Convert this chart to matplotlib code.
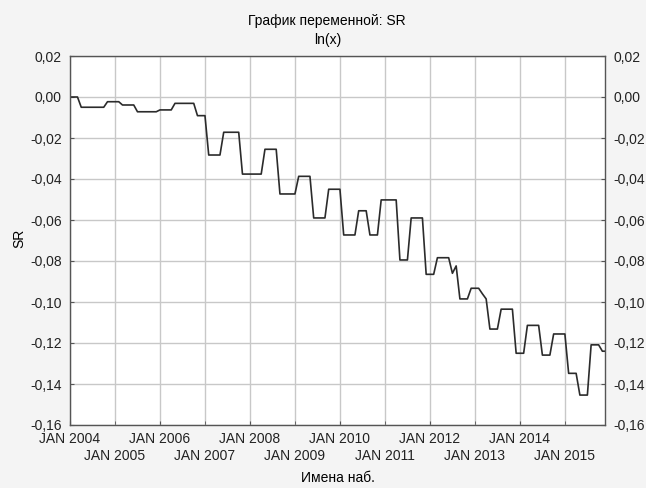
import numpy as np
import matplotlib.pyplot as plt
from matplotlib.ticker import FixedLocator

plt.rcParams['font.family'] = ['Liberation Sans', 'DejaVu Sans']

# monthly SR values, Jan 2004 - Dec 2015
sr_2004 = [0, 0, 0, -0.005, -0.005, -0.005, -0.005, -0.005, -0.005, -0.005, -0.0023, -0.0023]
sr_2005 = [-0.0023, -0.0023, -0.0039, -0.0039, -0.0039, -0.0039, -0.0072, -0.0072, -0.0072, -0.0072, -0.0072, -0.0072]
sr_2006 = [-0.0063, -0.0063, -0.0063, -0.0063, -0.0031, -0.0031, -0.0031, -0.0031, -0.0031, -0.0031, -0.0091, -0.0091]
sr_2007 = [-0.0091, -0.0283, -0.0283, -0.0283, -0.0283, -0.0172, -0.0172, -0.0172, -0.0172, -0.0172, -0.0376, -0.0376]
sr_2008 = [-0.0376, -0.0376, -0.0376, -0.0376, -0.0255, -0.0255, -0.0255, -0.0255, -0.0473, -0.0473, -0.0473, -0.0473]
sr_2009 = [-0.0473, -0.0387, -0.0387, -0.0387, -0.0387, -0.059, -0.059, -0.059, -0.059, -0.045, -0.045, -0.045]
sr_2010 = [-0.045, -0.0673, -0.0673, -0.0673, -0.0673, -0.0555, -0.0555, -0.0555, -0.0673, -0.0673, -0.0673, -0.0502]
sr_2011 = [-0.0502, -0.0502, -0.0502, -0.0502, -0.0795, -0.0795, -0.0795, -0.059, -0.059, -0.059, -0.059, -0.0865]
sr_2012 = [-0.0865, -0.0865, -0.0784, -0.0784, -0.0784, -0.0784, -0.086, -0.0824, -0.0985, -0.0985, -0.0985, -0.0933]
sr_2013 = [-0.0933, -0.0933, -0.096, -0.0985, -0.1132, -0.1132, -0.1132, -0.1035, -0.1035, -0.1035, -0.1035, -0.125]
sr_2014 = [-0.125, -0.125, -0.1114, -0.1114, -0.1114, -0.1114, -0.1259, -0.1259, -0.1259, -0.1156, -0.1156, -0.1156]
sr_2015 = [-0.1156, -0.1348, -0.1348, -0.1348, -0.1454, -0.1454, -0.1454, -0.1209, -0.1209, -0.1209, -0.124, -0.124]

years = list(range(2004, 2016))
y_ticks = [0.02, 0.00, -0.02, -0.04, -0.06, -0.08, -0.10, -0.12, -0.14, -0.16]
y_labels = ['0,02', '0,00', '-0,02', '-0,04', '-0,06', '-0,08', '-0,10', '-0,12', '-0,14', '-0,16']

sr = np.array(sr_2004 + sr_2005 + sr_2006 + sr_2007 + sr_2008 + sr_2009 +
              sr_2010 + sr_2011 + sr_2012 + sr_2013 + sr_2014 + sr_2015)
months = np.arange(len(sr))

fig = plt.figure(figsize=(6.46, 4.88), dpi=100, facecolor='#f4f4f4')
ax = fig.add_axes([70 / 646, 1 - 425 / 488, 535 / 646, 369 / 488])
ax.set_facecolor('white')

ax.plot(months, sr, color='#2b2b2b', linewidth=1.2)

ax.set_xlim(0, 142.7)
ax.set_ylim(-0.16, 0.02)

# every January gets a tick; even years on the first row, odd years on the second
even_pos = [12 * i for i, y in enumerate(years) if i % 2 == 0]
odd_pos = [12 * i for i, y in enumerate(years) if i % 2 == 1]
ax.xaxis.set_major_locator(FixedLocator(even_pos))
ax.xaxis.set_minor_locator(FixedLocator(odd_pos))
ax.set_xticklabels([f'JAN {y}' for i, y in enumerate(years) if i % 2 == 0], fontsize=10)
ax.set_xticklabels([f'JAN {y}' for i, y in enumerate(years) if i % 2 == 1], fontsize=10, minor=True)
ax.yaxis.set_major_locator(FixedLocator(y_ticks))
ax.set_yticklabels(y_labels, fontsize=10)

ax.tick_params(axis='x', which='major', direction='in', length=3, pad=5,
               colors='#222222', color='#555555')
ax.tick_params(axis='x', which='minor', direction='in', length=3, pad=17.5,
               colors='#222222', color='#555555')
ax.tick_params(axis='y', direction='in', length=3, pad=6, right=True, labelright=True,
               colors='#222222', color='#555555')

ax.grid(True, which='both', axis='x', color='#c8c8c8', linewidth=1)
ax.grid(True, which='major', axis='y', color='#c8c8c8', linewidth=1)
ax.set_axisbelow(True)
for spine in ax.spines.values():
    spine.set_color('#555555')
    spine.set_linewidth(1)

fig.text(327 / 646, 1 - 21 / 488, 'График переменной: SR', ha='center', va='center', fontsize=10)
fig.text(328 / 646, 1 - 40 / 488, 'ln(x)', ha='center', va='center', fontsize=10)
fig.text(19 / 646, 1 - 238 / 488, 'SR', ha='center', va='center', rotation=90, fontsize=10)
fig.text(338 / 646, 1 - 478 / 488, 'Имена наб.', ha='center', va='center', fontsize=10)

fig.savefig('out.png', dpi=100, facecolor=fig.get_facecolor())
